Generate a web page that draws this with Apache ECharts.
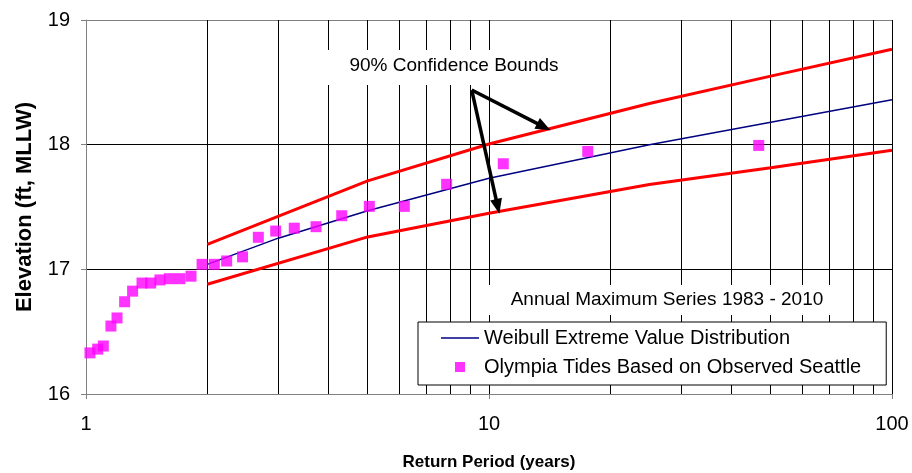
<!DOCTYPE html>
<html>
<head>
<meta charset="utf-8">
<script src="https://cdn.jsdelivr.net/npm/echarts@6/dist/echarts.min.js"></script>
<style>
  html, body { margin: 0; padding: 0; background: #fff; }
  #chart { width: 912px; height: 473px; }
</style>
</head>
<body>
<div id="chart"></div>
<script>
const FONT = '"Liberation Sans", Arial, sans-serif';

// Observed annual maxima (return period in years, elevation in ft MLLW)
const obsPeriod = [1.023, 1.069, 1.104, 1.153, 1.194, 1.247, 1.305, 1.377, 1.447, 1.526,
                   1.610, 1.711, 1.822, 1.941, 2.082, 2.234, 2.446, 2.677, 2.956, 3.287,
                   3.722, 4.311, 5.047, 6.165, 7.85, 10.85, 17.58, 46.7];
const obsElev = [16.33, 16.36, 16.385, 16.545, 16.61, 16.74, 16.825, 16.89, 16.89, 16.915,
                 16.925, 16.925, 16.945, 17.04, 17.04, 17.067, 17.10, 17.257, 17.307, 17.33,
                 17.342, 17.43, 17.505, 17.505, 17.682, 17.847, 17.946, 17.994];

// Fitted Weibull extreme value curve
const fitPeriod = [2, 3, 5, 10, 25, 50, 100];
const fitElev = [17.04, 17.25, 17.47, 17.73, 18.00, 18.18, 18.36];

// 90% confidence bounds of the fit
const boundPeriod = [2, 5, 10, 25, 50, 100];
const upperElev = [17.20, 17.71, 18.005, 18.33, 18.55, 18.765];
const lowerElev = [16.88, 17.26, 17.45, 17.68, 17.815, 17.955];

// Intermediate log-scale grid lines
const minorPeriods = [2, 3, 4, 5, 6, 7, 8, 9, 20, 30, 40, 50, 60, 70, 80, 90];

// Callout arrows, from the label to each bound: [start, head]
const arrowFrom = [9.06, 18.438];
const arrowHeads = [[13.68, 18.143], [10.51, 17.504]];

const NAME_FIT = 'Weibull Extreme Value Distribution';
const NAME_OBS = 'Olympia Tides Based on Observed Seattle';

const pairs = (xs, ys) => xs.map((x, i) => [x, ys[i]]);

const chart = echarts.init(document.getElementById('chart'), null, { renderer: 'canvas' });

chart.setOption({
  animation: false,
  backgroundColor: '#fff',
  textStyle: { fontFamily: FONT },
  grid: { left: 86, right: 20, top: 20, bottom: 79, containLabel: false, outerBoundsMode: 'none' },
  xAxis: {
    type: 'log',
    logBase: 10,
    min: 1,
    max: 100,
    name: 'Return Period (years)',
    nameLocation: 'middle',
    nameGap: 60,
    nameTextStyle: { fontFamily: FONT, fontSize: 17, fontWeight: 'bold', color: '#000' },
    axisLine: { show: true, lineStyle: { color: '#808080', width: 1 } },
    axisTick: { show: true, length: 5, lineStyle: { color: '#808080' } },
    axisLabel: { fontFamily: FONT, fontSize: 20, color: '#000', margin: 20 },
    splitLine: { show: true, lineStyle: { color: ['#808080', '#000', '#000'], width: 1 } },
    minorTick: { show: false },
    minorSplitLine: { show: false }
  },
  yAxis: {
    type: 'value',
    min: 16,
    max: 19,
    interval: 1,
    name: 'Elevation (ft, MLLW)',
    nameLocation: 'middle',
    nameGap: 50,
    nameTextStyle: { fontFamily: FONT, fontSize: 22, fontWeight: 'bold', color: '#000' },
    axisLine: { show: true, lineStyle: { color: '#808080', width: 1 } },
    axisTick: { show: true, length: 5, lineStyle: { color: '#808080' } },
    axisLabel: { fontFamily: FONT, fontSize: 20, color: '#000', margin: 16 },
    splitLine: { show: true, lineStyle: { color: ['#808080', '#000', '#000', '#808080'], width: 1 } }
  },
  legend: {
    orient: 'vertical',
    left: 418,
    top: 322,
    padding: [5, 25, 7, 23],
    itemGap: 7,
    itemWidth: 38,
    itemHeight: 10,
    backgroundColor: '#fff',
    borderColor: '#000',
    borderWidth: 1,
    borderRadius: 0,
    selectedMode: false,
    textStyle: { fontFamily: FONT, fontSize: 20, color: '#000', lineHeight: 22 },
    data: [
      {
        name: NAME_FIT,
        icon: 'path://M0,0L0,0M0,4.3L38,4.3L38,5.7L0,5.7ZM38,10L38,10',
        itemStyle: { color: '#000080', borderWidth: 0 }
      },
      {
        name: NAME_OBS,
        icon: 'path://M0,5L0,5M14,0L24,0L24,10L14,10ZM38,5L38,5',
        itemStyle: { color: '#FF00FF', borderWidth: 0 }
      }
    ]
  },
  graphic: [
    {
      type: 'rect', z: 10, silent: true,
      shape: { x: 322, y: 50, width: 263, height: 35 },
      style: { fill: '#fff', stroke: null }
    },
    {
      type: 'text', z: 11, silent: true, x: 454, y: 66,
      style: {
        text: '90% Confidence Bounds', font: '19px ' + FONT, fill: '#000',
        align: 'center', verticalAlign: 'middle', textAlign: 'center', textVerticalAlign: 'middle'
      }
    },
    {
      type: 'rect', z: 10, silent: true,
      shape: { x: 486, y: 285, width: 357, height: 30 },
      style: { fill: '#fff', stroke: null }
    },
    {
      type: 'text', z: 11, silent: true, x: 667, y: 300,
      style: {
        text: 'Annual Maximum Series 1983 - 2010', font: '19px ' + FONT, fill: '#000',
        align: 'center', verticalAlign: 'middle', textAlign: 'center', textVerticalAlign: 'middle'
      }
    }
  ],
  series: [
    {
      // intermediate vertical grid lines of the log axis
      name: 'grid', type: 'line', data: [], silent: true, z: 1,
      markLine: {
        silent: true, z: 1, symbol: ['none', 'none'], animation: false,
        label: { show: false },
        emphasis: { disabled: true },
        lineStyle: { color: '#000', width: 1, type: 'solid' },
        data: minorPeriods.map(v => ({ xAxis: v }))
      }
    },
    {
      name: 'Upper bound', type: 'line', data: pairs(boundPeriod, upperElev),
      symbol: 'none', silent: true, z: 3,
      lineStyle: { color: '#FF0000', width: 3 }
    },
    {
      name: 'Lower bound', type: 'line', data: pairs(boundPeriod, lowerElev),
      symbol: 'none', silent: true, z: 3,
      lineStyle: { color: '#FF0000', width: 3 }
    },
    {
      name: NAME_FIT, type: 'line', data: pairs(fitPeriod, fitElev),
      symbol: 'none', silent: true, z: 4,
      color: '#000080',
      lineStyle: { color: '#000080', width: 1.5 }
    },
    {
      name: NAME_OBS, type: 'scatter', data: pairs(obsPeriod, obsElev),
      symbol: 'rect', symbolSize: 11, silent: true, z: 5,
      itemStyle: { color: '#FF00FF' }
    },
    {
      // callout arrows pointing at the confidence bounds
      name: 'arrows', type: 'line', data: [], silent: true, z: 6,
      markLine: {
        silent: true, z: 6, animation: false,
        symbol: ['none', 'triangle'],
        symbolSize: [12, 15],
        label: { show: false },
        emphasis: { disabled: true },
        lineStyle: { color: '#000', width: 3.5, type: 'solid' },
        itemStyle: { color: '#000' },
        data: arrowHeads.map(h => [{ coord: arrowFrom }, { coord: h }])
      }
    }
  ]
});
</script>
</body>
</html>
